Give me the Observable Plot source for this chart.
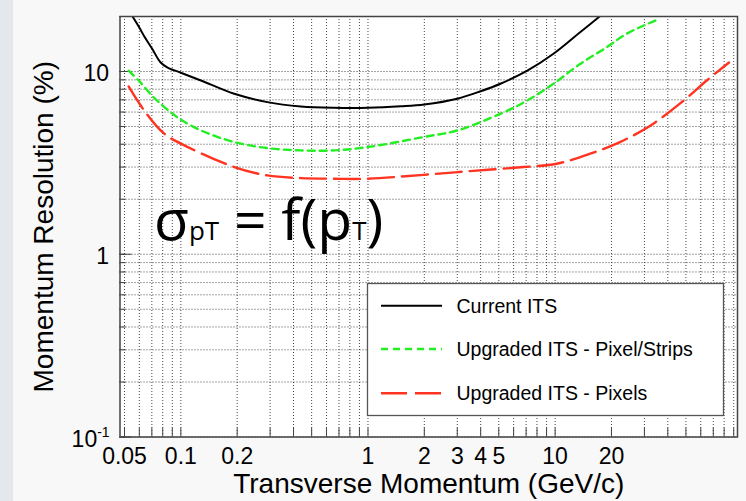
<!DOCTYPE html>
<html>
<head>
<meta charset="utf-8">
<script src="https://cdn.jsdelivr.net/npm/d3@7"></script>
<script src="https://cdn.jsdelivr.net/npm/@observablehq/plot@0.6"></script>
<style>
  html, body { margin: 0; padding: 0; background: #f8f8f8; width: 746px; height: 501px; overflow: hidden; }
  #strip { position: absolute; left: 0; top: 0; width: 13px; height: 501px; background: #e4e8ec; }
  #chart { position: absolute; left: 0; top: 0; }
</style>
</head>
<body>
<div id="strip"></div>
<div id="chart"></div>
<script>
// ---- data ----
const seriesNames = ["Current ITS", "Upgraded ITS - Pixel/Strips", "Upgraded ITS - Pixels"];

const currentX = [0.0552, 0.060, 0.0637, 0.070, 0.078, 0.085, 0.1, 0.128, 0.193, 0.29, 0.438, 0.66, 1.0, 1.5, 2.0, 3.0, 4.0, 5.1, 7.1, 9.8, 13.6, 17.6];
const currentY = [20.0, 17.4, 15.6, 13.4, 11.2, 10.5, 9.85, 8.93, 7.55, 6.80, 6.44, 6.33, 6.33, 6.45, 6.6, 7.1, 7.8, 8.57, 10.1, 12.5, 16.4, 20.3];

const stripsX = [0.0526, 0.06, 0.07, 0.08, 0.09, 0.1, 0.128, 0.193, 0.29, 0.438, 0.66, 1.0, 1.98, 3.0, 5.1, 7.1, 9.8, 13.6, 18.9, 24.1, 34.3];
const stripsY = [10.1, 8.84, 7.4, 6.5, 5.9, 5.45, 4.76, 4.11, 3.81, 3.70, 3.70, 3.86, 4.38, 4.76, 5.87, 6.94, 8.57, 11.0, 13.6, 16.1, 19.0];

const pixelsX = [0.0526, 0.0637, 0.0815, 0.109, 0.193, 0.29, 0.438, 0.66, 0.99, 1.98, 3.65, 6.8, 10.2, 15.4, 22.2, 32.4, 48.7, 64.6, 85];
const pixelsY = [8.28, 6.12, 4.57, 3.86, 3.0, 2.70, 2.61, 2.59, 2.59, 2.72, 2.86, 3.0, 3.13, 3.55, 4.11, 5.07, 6.94, 8.93, 11.2];

const xTickLabels = [0.05, 0.1, 0.2, 1, 2, 3, 4, 5, 10, 20];
const yTickLabels = [1, 10];
const yLowTick = [0.1];
const xGrid = [0.05,0.06,0.07,0.08,0.09, 0.1,0.2,0.3,0.4,0.5,0.6,0.7,0.8,0.9, 1,2,3,4,5,6,7,8,9, 10,20,30,40,50,60,70,80,90];
const yGrid = [0.1,0.2,0.3,0.4,0.5,0.6,0.7,0.8,0.9, 1,2,3,4,5,6,7,8,9, 10,20];
const yMajor = [0.1, 1, 10];
const xDomain = [0.0473, 94.3];
const yDomain = [0.1, 20];

const xTitle = "Transverse Momentum (GeV/c)";
const yTitle = "Momentum Resolution (%)";

// ---- styles ----
const colors = ["#000000", "#22ee22", "#ff3320"];
const dashes = [null, "7,5", "26,8"];
const widths = [2, 2.4, 2.4];

const toRows = (xs, ys) => xs.map((x, i) => ({x, y: ys[i]}));
const seriesRows = [toRows(currentX, currentY), toRows(stripsX, stripsY), toRows(pixelsX, pixelsY)];

const font = "'Liberation Sans', Arial, Helvetica, sans-serif";

const lineMarks = seriesRows.map((rows, i) =>
  Plot.line(rows, {x: "x", y: "y", stroke: colors[i], strokeWidth: widths[i],
    strokeDasharray: dashes[i] || undefined, curve: "catmull-rom", clip: true}));

const plot = Plot.plot({
  width: 746,
  height: 501,
  marginLeft: 119.5,
  marginRight: 9,
  marginTop: 16,
  marginBottom: 64.5,
  style: {background: "transparent", fontFamily: font, color: "#000"},
  x: {type: "log", domain: xDomain, axis: null},
  y: {type: "log", domain: yDomain, axis: null},
  marks: [
    Plot.frame({fill: "white", stroke: null}),
    Plot.gridX(xGrid, {stroke: "#333", strokeOpacity: 0.9, strokeDasharray: "1,2", strokeWidth: 1}),
    Plot.gridY(yGrid, {stroke: "#333", strokeOpacity: 0.9, strokeDasharray: "1,2", strokeWidth: 1}),
    Plot.axisX(xGrid, {tickSize: -9, tickFormat: () => "", label: null, stroke: "#444"}),
    Plot.axisY(yGrid, {tickSize: -6, tickFormat: () => "", label: null, stroke: "#444"}),
    Plot.axisY(yMajor, {tickSize: -12, tickFormat: () => "", label: null, stroke: "#444"}),
    ...lineMarks,
    Plot.text(xTickLabels, {x: d => d, y: () => yDomain[0], text: d => String(d), lineAnchor: "top", dy: 11, fontSize: 23, fill: "#000"}),
    Plot.text(yTickLabels, {x: () => xDomain[0], y: d => d, text: d => String(d), textAnchor: "end", dx: -11, dy: 2, fontSize: 23, fill: "#000"}),
    Plot.text(yLowTick, {x: () => xDomain[0], y: d => d, text: () => "10", textAnchor: "end", dx: -22.8, dy: 3, fontSize: 23, fill: "#000"}),
    Plot.text(yLowTick, {x: () => xDomain[0], y: d => d, text: () => "-1", textAnchor: "start", dx: -22.8, dy: -4.5, fontSize: 14, fill: "#000"}),
    Plot.text([xTitle], {frameAnchor: "bottom", lineAnchor: "middle", textAnchor: "middle", dy: 47, fontSize: 28, fill: "#000"}),
    Plot.text([yTitle], {frameAnchor: "left", lineAnchor: "middle", textAnchor: "middle", dx: -76, rotate: -90, fontSize: 28, fill: "#000"}),
    Plot.frame({stroke: "#444", strokeWidth: 1.5})
  ]
});

document.getElementById("chart").appendChild(plot);

// ---- legend and annotation overlays ----
const svg = d3.select(plot);
const lg = svg.append("g").attr("text-anchor", "start");
lg.append("rect").attr("x", 367.5).attr("y", 283.5).attr("width", 356).attr("height", 132)
  .attr("fill", "white").attr("stroke", "#555").attr("stroke-width", 1.3);
const rowY = [305.7, 349, 393.3];
seriesNames.forEach((name, i) => {
  const l = lg.append("line").attr("x1", 381).attr("x2", 442).attr("y1", rowY[i]).attr("y2", rowY[i])
    .attr("stroke", colors[i]).attr("stroke-width", widths[i]);
  if (dashes[i]) l.attr("stroke-dasharray", dashes[i]);
  lg.append("text").attr("x", 456.5).attr("y", rowY[i] + 7).attr("font-size", 19.5)
    .attr("text-anchor", "start").attr("font-family", font).attr("fill", "#000").text(name);
});

const ann = svg.append("text").attr("x", 154).attr("y", 240).attr("text-anchor", "start")
  .attr("font-family", "'Open Sans', 'Noto Sans', sans-serif").attr("fill", "#000");
const big = 57, small = 26;
[["σ", big], ["p", small], ["T", small], [" = f(", big], ["p", big], ["T", small], [")", big]]
  .forEach(([t, s]) => ann.append("tspan").attr("font-size", s).text(t));
</script>
</body>
</html>
